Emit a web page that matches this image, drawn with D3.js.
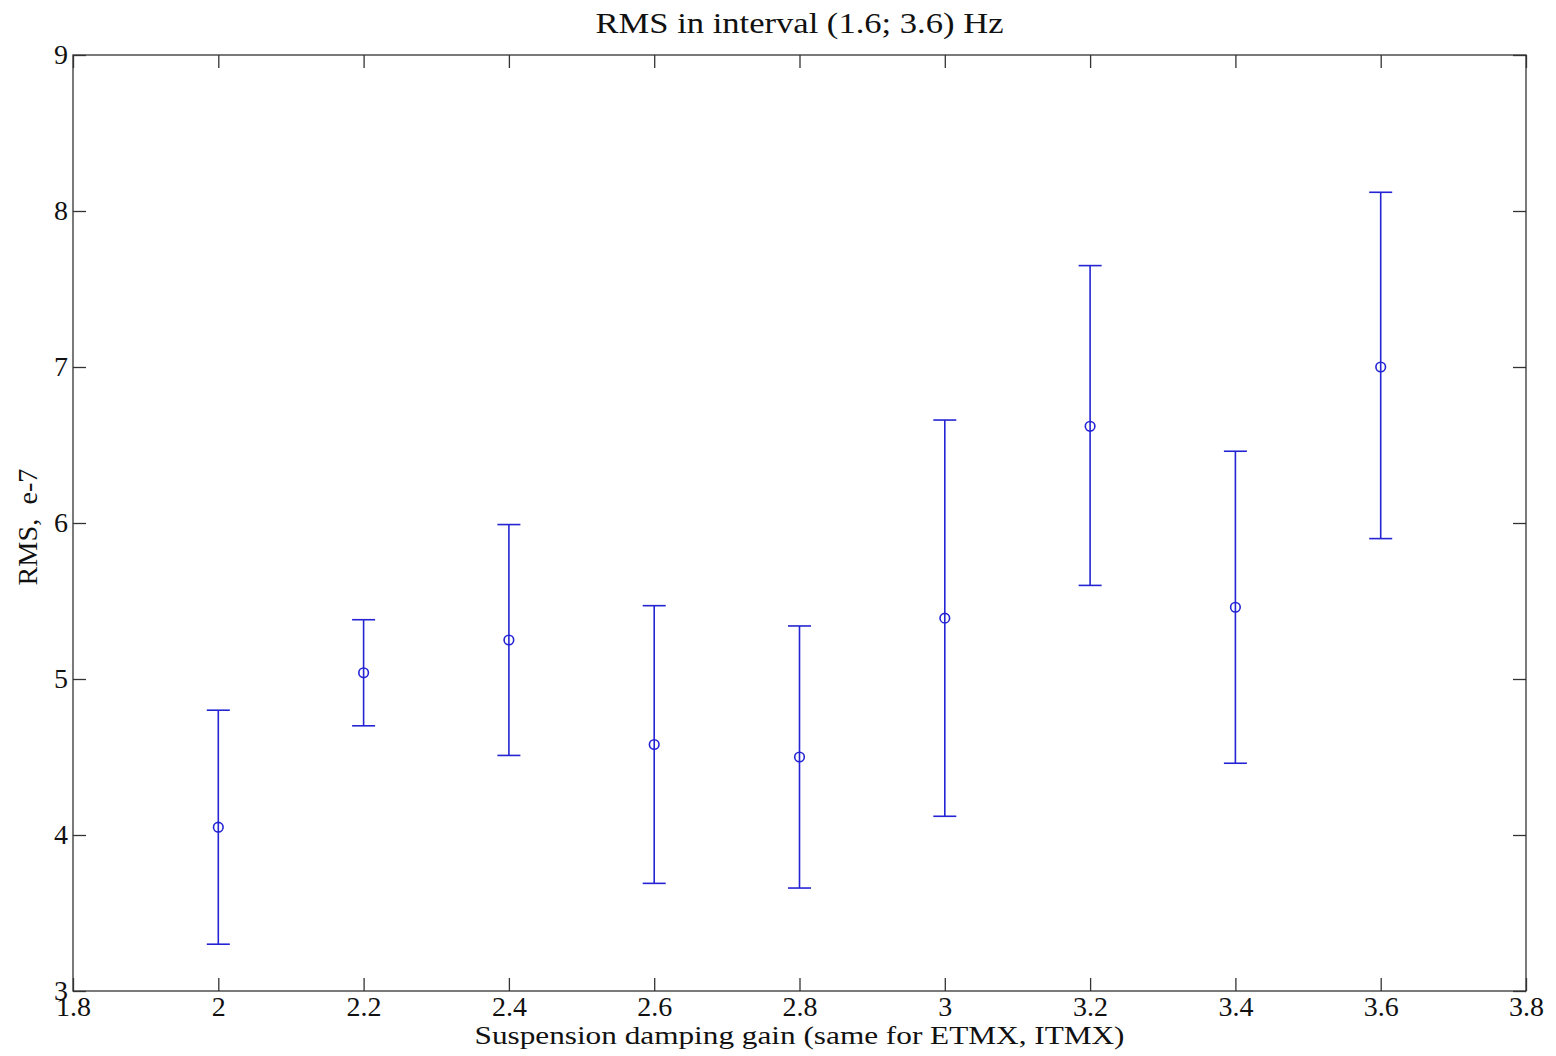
<!DOCTYPE html>
<html>
<head>
<meta charset="utf-8">
<script src="https://cdn.jsdelivr.net/npm/d3@7"></script>
<style>
  body { margin: 0; background: #fff; }
  text { font-family: "Liberation Serif", "Times New Roman", serif; fill: #111; }
</style>
</head>
<body>
<div id="chart"></div>
<script>
// gains (x), mean RMS and error bar ends (in e-7)
const gains = [2.0, 2.2, 2.4, 2.6, 2.8, 3.0, 3.2, 3.4, 3.6];
const rmsMean = [4.05, 5.04, 5.25, 4.58, 4.50, 5.39, 6.62, 5.46, 7.00];
const rmsLow = [3.30, 4.70, 4.51, 3.69, 3.66, 4.12, 5.60, 4.46, 5.90];
const rmsHigh = [4.80, 5.38, 5.99, 5.47, 5.34, 6.66, 7.65, 6.46, 8.12];
const xTicks = [1.8, 2, 2.2, 2.4, 2.6, 2.8, 3, 3.2, 3.4, 3.6, 3.8];
const yTicks = [3, 4, 5, 6, 7, 8, 9];

const config = {
  width: 1556,
  height: 1056,
  margin: { top: 55, right: 30, bottom: 65, left: 73 },
};
const blue = "#2424d4";
const tickLen = 13;

const innerW = config.width - config.margin.left - config.margin.right;
const innerH = config.height - config.margin.top - config.margin.bottom;

const svg = d3.select("#chart")
  .append("svg")
  .attr("width", config.width)
  .attr("height", config.height);

const g = svg.append("g")
  .attr("transform", `translate(${config.margin.left},${config.margin.top})`);

const x = d3.scaleLinear().domain([1.8, 3.8]).range([0, innerW]);
const y = d3.scaleLinear().domain([3, 9]).range([innerH, 0]);

// axes box with inward ticks on all sides
const axisColor = "#333";
g.append("rect")
  .attr("width", innerW)
  .attr("height", innerH)
  .attr("fill", "none")
  .attr("stroke", axisColor)
  .attr("stroke-width", 1.3);

const xAxis = g.append("g").attr("transform", `translate(0,${innerH})`)
  .call(d3.axisBottom(x).tickValues(xTicks).tickFormat(d3.format("")).tickSize(-tickLen).tickPadding(5));
const xAxisTop = g.append("g")
  .call(d3.axisTop(x).tickValues(xTicks).tickFormat("").tickSize(-tickLen));
const yAxis = g.append("g")
  .call(d3.axisLeft(y).tickValues(yTicks).tickFormat(d3.format("")).tickSize(-tickLen).tickPadding(5));
const yAxisRight = g.append("g").attr("transform", `translate(${innerW},0)`)
  .call(d3.axisRight(y).tickValues(yTicks).tickFormat("").tickSize(-tickLen));

[xAxis, xAxisTop, yAxis, yAxisRight].forEach((a) => {
  a.select(".domain").remove();
  a.selectAll(".tick line").attr("stroke", axisColor).attr("stroke-width", 1.3);
  a.attr("font-size", 28);
  a.selectAll("text").attr("fill", "#111");
});

// error bars
const data = gains.map((d, i) => ({ x: d, m: rmsMean[i], lo: rmsLow[i], hi: rmsHigh[i] }));
const capW = 11.5;
const bars = g.append("g").selectAll("g").data(data).join("g")
  .attr("stroke", blue).attr("stroke-width", 1.6).attr("fill", "none");
bars.append("line")
  .attr("x1", (d) => x(d.x)).attr("x2", (d) => x(d.x))
  .attr("y1", (d) => y(d.lo)).attr("y2", (d) => y(d.hi));
bars.append("line")
  .attr("x1", (d) => x(d.x) - capW).attr("x2", (d) => x(d.x) + capW)
  .attr("y1", (d) => y(d.hi)).attr("y2", (d) => y(d.hi));
bars.append("line")
  .attr("x1", (d) => x(d.x) - capW).attr("x2", (d) => x(d.x) + capW)
  .attr("y1", (d) => y(d.lo)).attr("y2", (d) => y(d.lo));
bars.append("circle")
  .attr("cx", (d) => x(d.x)).attr("cy", (d) => y(d.m))
  .attr("r", 4.8);

// title and labels (glyphs in the original are a bit wide, so stretch to its widths)
const midX = config.margin.left + innerW / 2;
svg.append("text")
  .attr("x", midX)
  .attr("y", 33)
  .attr("text-anchor", "middle")
  .attr("font-size", 30)
  .attr("textLength", 408)
  .attr("lengthAdjust", "spacingAndGlyphs")
  .text("RMS in interval (1.6; 3.6) Hz");

svg.append("text")
  .attr("x", midX)
  .attr("y", 1044)
  .attr("text-anchor", "middle")
  .attr("font-size", 26)
  .attr("textLength", 650)
  .attr("lengthAdjust", "spacingAndGlyphs")
  .text("Suspension damping gain (same for ETMX, ITMX)");

svg.append("text")
  .attr("transform", `translate(37,527) rotate(-90)`)
  .attr("text-anchor", "middle")
  .attr("font-size", 27)
  .attr("textLength", 117)
  .attr("lengthAdjust", "spacingAndGlyphs")
  .text("RMS,\u00a0 e-7");
</script>
</body>
</html>
